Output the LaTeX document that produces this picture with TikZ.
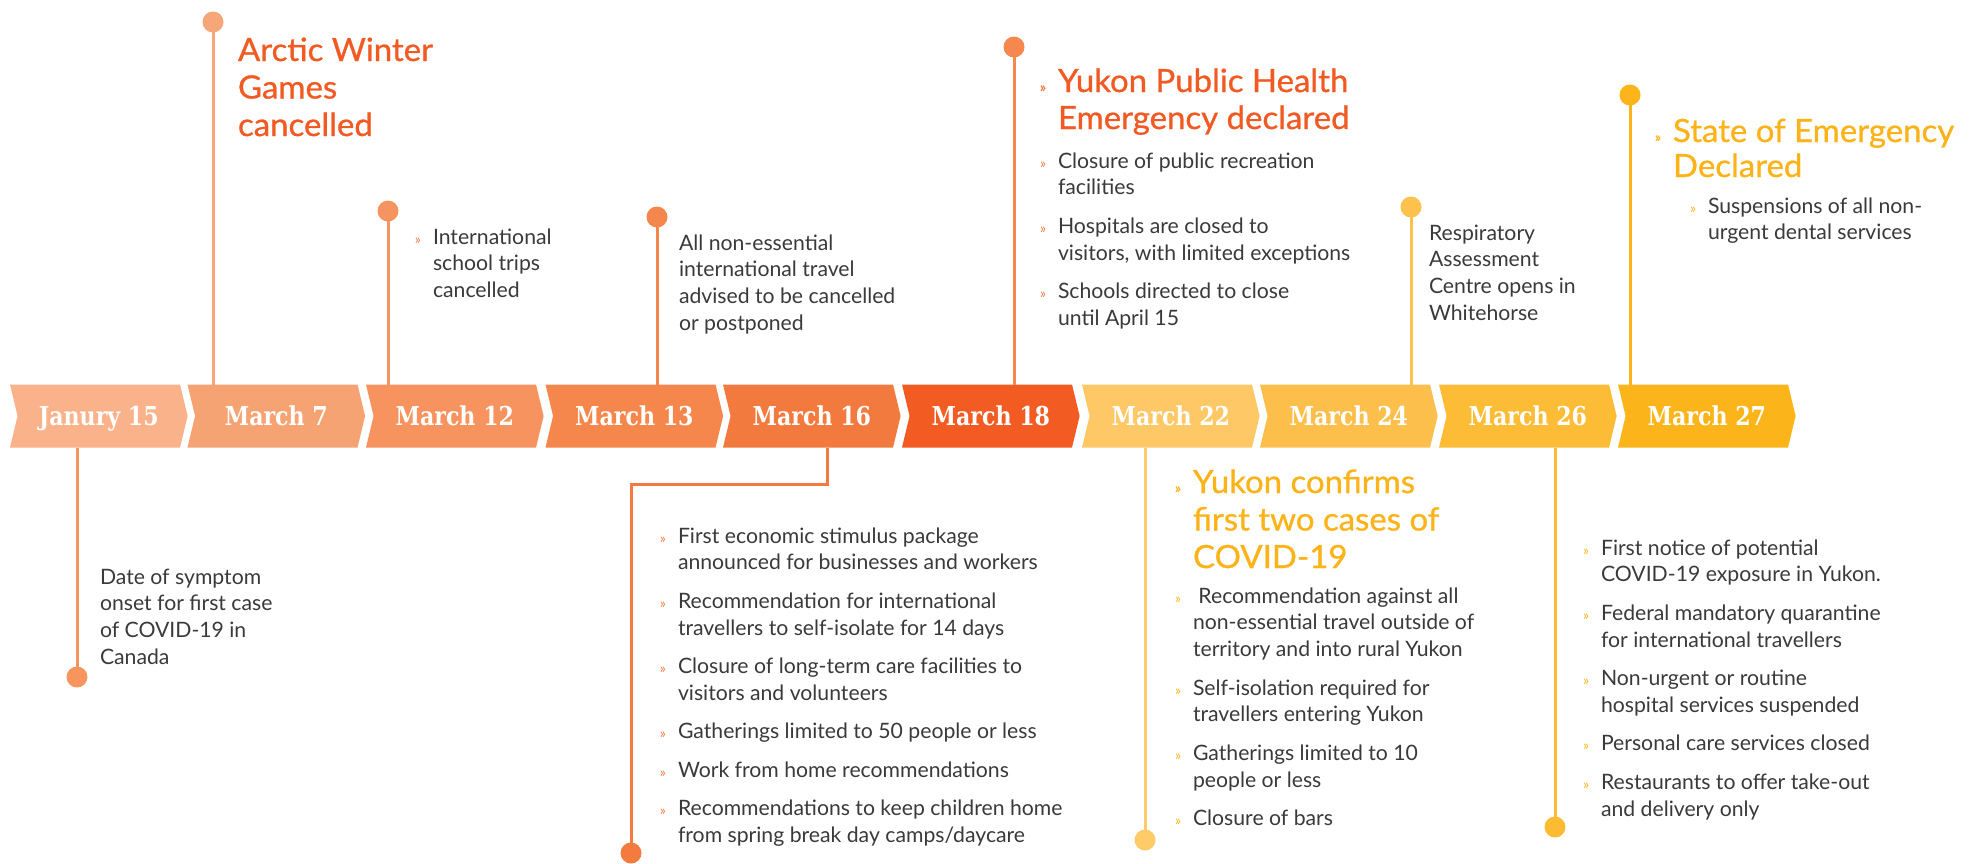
\documentclass[tikz,border=0pt]{standalone}
\usepackage{fontspec}
\setmainfont{Lato}
\newfontfamily\chevfont[FakeStretch=0.85]{DejaVu Serif}
\newfontfamily\titlefont[FakeBold=0.8,FakeStretch=1.03]{Lato}
\usetikzlibrary{shapes.symbols}
\definecolor{cA}{HTML}{F9B28A}
\definecolor{cB}{HTML}{F6A373}
\definecolor{cC}{HTML}{F7935E}
\definecolor{cD}{HTML}{F5874C}
\definecolor{cE}{HTML}{F37A3E}
\definecolor{cF}{HTML}{F25C23}
\definecolor{cG}{HTML}{FEC867}
\definecolor{cH}{HTML}{FDBF4B}
\definecolor{cI}{HTML}{FDBC36}
\definecolor{cJ}{HTML}{FBB51A}
\definecolor{sA}{HTML}{F7955F}
\definecolor{sB}{HTML}{F7A679}
\definecolor{sC}{HTML}{F59461}
\definecolor{sD}{HTML}{F5874C}
\definecolor{sE}{HTML}{F47B40}
\definecolor{sF}{HTML}{F5874F}
\definecolor{sG}{HTML}{FDCB68}
\definecolor{sH}{HTML}{FDC14E}
\definecolor{sI}{HTML}{FDBB33}
\definecolor{sJ}{HTML}{FBB41A}
\definecolor{torange}{HTML}{F15A22}
\definecolor{tyellow}{HTML}{FBB318}
\definecolor{borange}{HTML}{F37A3F}
\definecolor{byellow}{HTML}{FBB318}
\definecolor{txtc}{HTML}{3A3A3A}
\newcommand\bul[1]{\leavevmode\llap{{\color{#1}\fontsize{14}{14}\selectfont »}\hspace{12pt}}\ignorespaces}
\newcommand\tb[1]{\parbox[t]{460pt}{\raggedright\fontsize{21.2}{26.8}\selectfont #1}}
\newcommand\ttl[2][37.5]{\parbox[t]{460pt}{\raggedright\titlefont\fontsize{32}{#1}\selectfont #2}}
\tikzset{
  chev/.style={signal, signal to=east, signal from=west, signal pointer angle=153,
    minimum width=177.6pt, minimum height=63pt, inner sep=0pt, outer sep=0pt,
    fill=#1, draw=none, text=white, font=\chevfont\bfseries\fontsize{26}{26}\selectfont,
    text height=19pt, text depth=0pt},
  dot/.style={circle, inner sep=0pt, minimum size=21pt, fill=#1},
  stem/.style={line width=3pt, draw=#1},
  txt/.style={anchor=base west, inner sep=0pt, outer sep=0pt, text=txtc},
  ttlo/.style={anchor=base west, inner sep=0pt, outer sep=0pt, text=torange},
  ttly/.style={anchor=base west, inner sep=0pt, outer sep=0pt, text=tyellow},
}
\begin{document}
\begin{tikzpicture}[x=1pt, y=-1pt]
\useasboundingbox (0,0) rectangle (1977,863);
\fill[white] (0,0) rectangle (1977,863);

% chevrons
\node[chev=cA] (c1) at (98.8,416) {Janury 15};
\node[chev=cB] (c2) at (276.3,416) {March 7};
\node[chev=cC] (c3) at (454.8,416) {March 12};
\node[chev=cD] (c4) at (634.3,416) {March 13};
\node[chev=cE] (c5) at (811.8,416) {March 16};
\node[chev=cF] (c6) at (990.8,416) {March 18};
\node[chev=cG] (c7) at (1170.8,416) {March 22};
\node[chev=cH] (c8) at (1348.8,416) {March 24};
\node[chev=cI] (c9) at (1527.8,416) {March 26};
\node[chev=cJ] (c10) at (1706.8,416) {March 27};

% dot positions
\coordinate (p1) at (77,677);
\coordinate (p2) at (213,22);
\coordinate (p3) at (388,211);
\coordinate (p4) at (657,217);
\coordinate (p5) at (631,853);
\coordinate (p6) at (1014,47);
\coordinate (p7) at (1145,840);
\coordinate (p8) at (1411,207);
\coordinate (p9) at (1555,827);
\coordinate (p10) at (1630,95);
\coordinate (e5) at (827,484);

% stems
\draw[stem=sA] (p1) -- (p1 |- c1.south);
\draw[stem=sB] (p2) -- (p2 |- c2.north);
\draw[stem=sC] (p3) -- (p3 |- c3.north);
\draw[stem=sD] (p4) -- (p4 |- c4.north);
\draw[stem=sE] (e5 |- c5.south) -- (e5) -| (p5);
\draw[stem=sF] (p6) -- (p6 |- c6.north);
\draw[stem=sG] (p7) -- (p7 |- c7.south);
\draw[stem=sH] (p8) -- (p8 |- c8.north);
\draw[stem=sI] (p9) -- (p9 |- c9.south);
\draw[stem=sJ] (p10) -- (p10 |- c10.north);

% dots
\node[dot=sA] (d1) at (p1) {};
\node[dot=sB] (d2) at (p2) {};
\node[dot=sC] (d3) at (p3) {};
\node[dot=sD] (d4) at (p4) {};
\node[dot=sE] (d5) at (p5) {};
\node[dot=sF] (d6) at (p6) {};
\node[dot=sG] (d7) at (p7) {};
\node[dot=sH] (d8) at (p8) {};
\node[dot=sI] (d9) at (p9) {};
\node[dot=sJ] (d10) at (p10) {};

% texts
\node[txt] (t1) at (100,584) {\tb{Date of symptom\\onset for first case\\of COVID-19 in\\Canada}};
\node[ttlo] (t2) at (238,61) {\ttl{Arctic Winter\\Games\\cancelled}};
\node[txt] (t3) at (433,244) {\tb{\bul{borange}International\\school trips\\cancelled}};
\node[txt] (t4) at (679,250) {\tb{All non-essential\\international travel\\advised to be cancelled\\or postponed}};
\node[txt] (t5) at (678,543) {\tb{\bul{borange}First economic stimulus package\\announced for businesses and workers\\[11.7pt]
\bul{borange}Recommendation for international\\travellers to self-isolate for 14 days\\[11.7pt]
\bul{borange}Closure of long-term care facilities to\\visitors and volunteers\\[11.7pt]
\bul{borange}Gatherings limited to 50 people or less\\[11.7pt]
\bul{borange}Work from home recommendations\\[11.7pt]
\bul{borange}Recommendations to keep children home\\from spring break day camps/daycare}};
\node[ttlo] (t6) at (1058,92) {\ttl[37]{\bul{borange}Yukon Public Health\\Emergency declared}};
\node[txt] (t6b) at (1058,168) {\tb{\bul{borange}Closure of public recreation\\facilities\\[11.7pt]
\bul{borange}Hospitals are closed to\\visitors, with limited exceptions\\[11.7pt]
\bul{borange}Schools directed to close\\until April 15}};
\node[ttly] (t7) at (1193,493) {\ttl{\bul{byellow}Yukon confirms\\first two cases of\\COVID-19}};
\node[txt] (t7b) at (1193,603) {\tb{\bul{byellow}\ Recommendation against all\\non-essential travel outside of\\territory and into rural Yukon\\[11.7pt]
\bul{byellow}Self-isolation required for\\travellers entering Yukon\\[11.7pt]
\bul{byellow}Gatherings limited to 10\\people or less\\[11.7pt]
\bul{byellow}Closure of bars}};
\node[txt] (t8) at (1429,240) {\tb{Respiratory\\Assessment\\Centre opens in\\Whitehorse}};
\node[txt] (t9) at (1601,555) {\tb{\bul{byellow}First notice of potential\\COVID-19 exposure in Yukon.\\[11.7pt]
\bul{byellow}Federal mandatory quarantine\\for international travellers\\[11.7pt]
\bul{byellow}Non-urgent or routine\\hospital services suspended\\[11.7pt]
\bul{byellow}Personal care services closed\\[11.7pt]
\bul{byellow}Restaurants to offer take-out\\and delivery only}};
\node[ttly] (t10) at (1673,142) {\ttl[35]{\bul{byellow}State of Emergency\\Declared}};
\node[txt] (t10b) at (1708,213) {\tb{\bul{byellow}Suspensions of all non-\\urgent dental services}};
\end{tikzpicture}
\end{document}
